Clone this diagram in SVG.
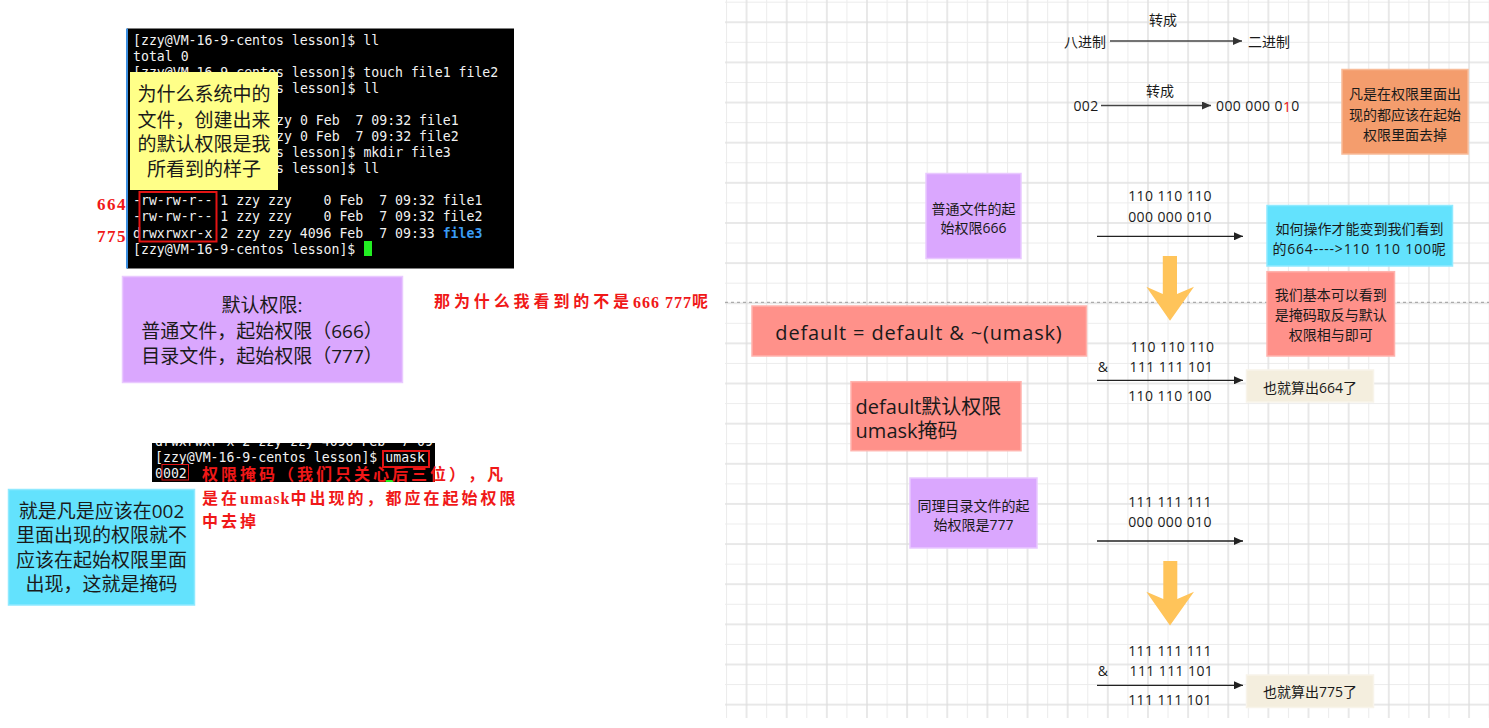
<svg xmlns="http://www.w3.org/2000/svg" width="1489" height="728" viewBox="0 0 1489 728">
<defs>
<style>
text{text-spacing-trim:space-all}
.term{font-family:"DejaVu Sans Mono","Liberation Mono",monospace;font-size:13.2px;fill:#f2f2f2;dominant-baseline:central;white-space:pre}
.sans{font-family:"Open Sans","Noto Sans CJK SC",sans-serif;fill:#1a1a1a;dominant-baseline:central}
.c{text-anchor:middle}
.f14{font-size:14px}
.f19{font-size:19px}
.f20{font-size:20px}
.num{font-size:14px;letter-spacing:0.4px}
.red{font-family:"Liberation Serif","Noto Sans CJK SC",serif;font-weight:bold;fill:#f01818;font-size:16px;letter-spacing:3px;dominant-baseline:central;white-space:pre}
.purple{fill:#daa7fe;stroke:#e9c9ff;stroke-width:1.5}
.cyan{fill:#63e2fd;stroke:#8fe9ff;stroke-width:1.5}
.pink{fill:#ff918a;stroke:#ffb3ad;stroke-width:1.5}
.orange{fill:#f49d6d;stroke:#f8bb98;stroke-width:1.5}
.beige{fill:#f4eede;stroke:#f8f4ea;stroke-width:1.5}
.conn{stroke:#222;stroke-width:1.3;fill:none}
.conn2{stroke:#444;stroke-width:1.6;fill:none}
.big{fill:#ffc45a}
.redbox{fill:none;stroke:#e41414;stroke-width:2}
</style>
<pattern id="grid" x="726" y="1.7" width="40.14" height="40.14" patternUnits="userSpaceOnUse">
<rect x="0" y="0" width="40.14" height="40.14" fill="#ffffff"/>
<path d="M0.5 0V40.14M20.57 0V40.14" stroke="#ececec" stroke-width="1"/>
<path d="M0 0.5H40.14M0 20.57H40.14" stroke="#ececec" stroke-width="1"/>
<path d="M20.57 0V40.14M0 20.57H40.14" stroke="#dcdcdc" stroke-width="1"/>
</pattern>
<marker id="ah" markerWidth="9" markerHeight="8" refX="9" refY="4" orient="auto" markerUnits="userSpaceOnUse">
<path d="M0,0 L9,4 L0,8 z" fill="#222"/>
</marker>
<marker id="ah2" markerWidth="9" markerHeight="8" refX="9" refY="4" orient="auto" markerUnits="userSpaceOnUse">
<path d="M0,0 L9,4 L0,8 z" fill="#333"/>
</marker>
<clipPath id="clipT2"><rect x="152" y="443" width="283" height="39"/></clipPath>
</defs>

<rect x="0" y="0" width="1489" height="728" fill="#ffffff"/>
<rect x="725" y="0" width="764" height="718" fill="url(#grid)"/>
<line x1="725" y1="302.3" x2="1489" y2="302.3" stroke="#9a9a9a" stroke-width="1" stroke-dasharray="3,3"/>

<!-- Terminal 1 -->
<g id="terminal1">
<rect x="127" y="28.5" width="387" height="240" fill="#000"/>
<rect x="126" y="28.5" width="2" height="240" fill="#3d8fe0"/>
<text class="term" x="133" y="40" xml:space="preserve">[zzy@VM-16-9-centos lesson]$ ll</text>
<text class="term" x="133" y="56" xml:space="preserve">total 0</text>
<text class="term" x="133" y="72" xml:space="preserve">[zzy@VM-16-9-centos lesson]$ touch file1 file2</text>
<text class="term" x="276.1" y="88" xml:space="preserve">s lesson]$ ll</text>
<text class="term" x="276.1" y="120.5" xml:space="preserve">zy 0 Feb  7 09:32 file1</text>
<text class="term" x="276.1" y="136.5" xml:space="preserve">zy 0 Feb  7 09:32 file2</text>
<text class="term" x="276.1" y="152.5" xml:space="preserve">s lesson]$ mkdir file3</text>
<text class="term" x="276.1" y="168.5" xml:space="preserve">s lesson]$ ll</text>
<text class="term" x="133" y="200.7" xml:space="preserve">-rw-rw-r-- 1 zzy zzy    0 Feb  7 09:32 file1</text>
<text class="term" x="133" y="216.7" xml:space="preserve">-rw-rw-r-- 1 zzy zzy    0 Feb  7 09:32 file2</text>
<text class="term" x="133" y="233" xml:space="preserve">drwxrwxr-x 2 zzy zzy 4096 Feb  7 09:33 <tspan fill="#3a9cf5" font-weight="bold">file3</tspan></text>
<text class="term" x="133" y="249" xml:space="preserve">[zzy@VM-16-9-centos lesson]$ </text>
<rect x="364" y="241" width="8" height="15" fill="#22ee22"/>
<rect class="redbox" x="139.5" y="192" width="77" height="49.5"/>
</g>

<g id="note-why-default">
<rect x="130" y="72" width="148" height="118" fill="#ffff88"/>
<text class="sans c f19" x="204" y="94.3">为什么系统中的</text>
<text class="sans c f19" x="204" y="120">文件，创建出来</text>
<text class="sans c f19" x="204" y="143.5">的默认权限是我</text>
<text class="sans c f19" x="204" y="169">所看到的样子</text>
</g>

<g id="label-664"><text class="red" x="97" y="204.5" style="letter-spacing:1.5px;font-size:17px">664</text></g>
<g id="label-775"><text class="red" x="97" y="236" style="letter-spacing:1.5px;font-size:17px">775</text></g>

<g id="box-default-perm">
<rect class="purple" x="122.5" y="276.5" width="280" height="106"/>
<text class="sans c f19" x="262" y="305">默认权限:</text>
<text class="sans c f19" x="262" y="331">普通文件，起始权限（666）</text>
<text class="sans c f19" x="262" y="356">目录文件，起始权限（777）</text>
</g>

<g id="note-question">
<text class="red" x="434" y="301.5" style="letter-spacing:3.9px">那为什么我看到的不是<tspan style="letter-spacing:1px">666 777</tspan>呢</text>
</g>

<!-- Terminal 2 -->
<g id="terminal2">
<g clip-path="url(#clipT2)">
<rect x="152" y="443" width="283" height="39" fill="#000"/>
<text class="term" x="155" y="441" xml:space="preserve">drwxrwxr-x 2 zzy zzy 4096 Feb  7 09:33 file3</text>
<text class="term" x="155" y="457" xml:space="preserve">[zzy@VM-16-9-centos lesson]$ umask</text>
<text class="term" x="155" y="473" xml:space="preserve">0002</text>
<rect x="385.6" y="480" width="8" height="3" fill="#22ee22"/>
</g>
<rect class="redbox" x="383" y="451" width="46" height="16"/>
<rect x="162" y="464.5" width="26.5" height="15.5" fill="none" stroke="#e41414" stroke-width="1"/>
</g>

<g id="note-umask">
<text class="red" x="202" y="474.5">权限掩码（我们只关心后三位），凡</text>
<text class="red" x="202" y="498">是在<tspan style="letter-spacing:1px">umask</tspan>中出现的，都应在起始权限</text>
<text class="red" x="202" y="521">中去掉</text>
</g>

<g id="box-mask-explain">
<rect class="cyan" x="8.5" y="489.5" width="186" height="115.5"/>
<text class="sans c f19" x="101.5" y="510.5">就是凡是应该在002</text>
<text class="sans c f19" x="101.5" y="535">里面出现的权限就不</text>
<text class="sans c f19" x="101.5" y="559.5">应该在起始权限里面</text>
<text class="sans c f19" x="101.5" y="584">出现，这就是掩码</text>
</g>

<!-- Right side -->
<g id="text-octal"><text class="sans c f14" x="1085" y="41.5">八进制</text></g>
<g id="text-binary"><text class="sans c f14" x="1269" y="41.5">二进制</text></g>
<g id="label-convert1"><text class="sans c f14" x="1163" y="19">转成</text></g>
<g id="text-002"><text class="sans c num" x="1086" y="105.5">002</text></g>
<g id="label-convert2"><text class="sans c f14" x="1160" y="90.5">转成</text></g>
<g id="text-002-bin"><text class="sans num" x="1216" y="105.5">000 000 0<tspan fill="#e81010">1</tspan>0</text></g>

<g id="box-remove">
<rect class="orange" x="1342" y="69.5" width="126" height="84.5"/>
<text class="sans c f14" x="1405" y="93.5">凡是在权限里面出</text>
<text class="sans c f14" x="1405" y="114">现的都应该在起始</text>
<text class="sans c f14" x="1405" y="134">权限里面去掉</text>
</g>

<g id="box-file-start">
<rect class="purple" x="926" y="173.5" width="95" height="85"/>
<text class="sans c f14" x="973.5" y="208">普通文件的起</text>
<text class="sans c f14" x="973.5" y="227.7">始权限666</text>
</g>

<g id="calc-file-1">
<text class="sans c num" x="1170" y="195.7">110 110 110</text>
<text class="sans c num" x="1170" y="216.7">000 000 010</text>
</g>

<g id="box-how">
<rect class="cyan" x="1267" y="205.5" width="185.5" height="60.5"/>
<text class="sans c f14" x="1359.5" y="228.3">如何操作才能变到我们看到</text>
<text class="sans c f14" x="1359.5" y="248.3" style="letter-spacing:0.8px">的664----&gt;110 110 100呢</text>
</g>

<g id="box-answer">
<rect class="pink" x="1267" y="271.7" width="127.5" height="84.3"/>
<text class="sans c f14" x="1330.7" y="294">我们基本可以看到</text>
<text class="sans c f14" x="1330.7" y="314">是掩码取反与默认</text>
<text class="sans c f14" x="1330.7" y="334">权限相与即可</text>
</g>

<g id="box-formula">
<rect class="pink" x="752" y="306" width="334.5" height="50"/>
<text class="sans c f20" x="919" y="332" style="letter-spacing:0.85px">default = default &amp; ~(umask)</text>
</g>

<g id="calc-file-2">
<text class="sans c num" x="1172.5" y="346">110 110 110</text>
<text class="sans num" x="1097.8" y="366">&amp;</text>
<text class="sans c num" x="1171.4" y="366">111 111 101</text>
<text class="sans c num" x="1170" y="395">110 110 100</text>
</g>

<g id="box-result-664">
<rect class="beige" x="1246.5" y="370" width="127" height="32"/>
<text class="sans c f14" x="1310" y="387">也就算出664了</text>
</g>

<g id="box-legend">
<rect class="pink" x="851" y="381.7" width="170" height="69"/>
<text class="sans f20" x="855.6" y="406">default默认权限</text>
<text class="sans f20" x="855.6" y="430.7">umask掩码</text>
</g>

<g id="box-dir-start">
<rect class="purple" x="910" y="478" width="127" height="70"/>
<text class="sans c f14" x="973.5" y="505">同理目录文件的起</text>
<text class="sans c f14" x="973.5" y="524">始权限是777</text>
</g>

<g id="calc-dir-1">
<text class="sans c num" x="1170" y="501">111 111 111</text>
<text class="sans c num" x="1170" y="521.7">000 000 010</text>
</g>

<g id="calc-dir-2">
<text class="sans c num" x="1170" y="650.7">111 111 111</text>
<text class="sans num" x="1097.8" y="670.7">&amp;</text>
<text class="sans c num" x="1171.4" y="670.7">111 111 101</text>
<text class="sans c num" x="1170" y="699.3">111 111 101</text>
</g>

<g id="box-result-775">
<rect class="beige" x="1246.5" y="675" width="127" height="32.5"/>
<text class="sans c f14" x="1310" y="691.5">也就算出775了</text>
</g>

<g id="connectors">
<line class="conn2" x1="1110" y1="41" x2="1242" y2="41" marker-end="url(#ah2)"/>
<line class="conn2" x1="1101" y1="105.5" x2="1211" y2="105.5" marker-end="url(#ah2)"/>
<line class="conn" x1="1097" y1="236.3" x2="1243" y2="236.3" marker-end="url(#ah)"/>
<line class="conn" x1="1097" y1="380.3" x2="1243" y2="380.3" marker-end="url(#ah)"/>
<line class="conn" x1="1097" y1="541" x2="1243" y2="541" marker-end="url(#ah)"/>
<line class="conn" x1="1097" y1="685.3" x2="1243" y2="685.3" marker-end="url(#ah)"/>
<polygon class="big" points="1162.8,256 1177,256 1177,294 1194,286.7 1170,320.7 1146.3,286.7 1162.8,294"/>
<polygon class="big" points="1163.3,561 1177.3,561 1177.3,599 1194,591.7 1170,625.5 1146.3,591.7 1163.3,599"/>
</g>
</svg>
